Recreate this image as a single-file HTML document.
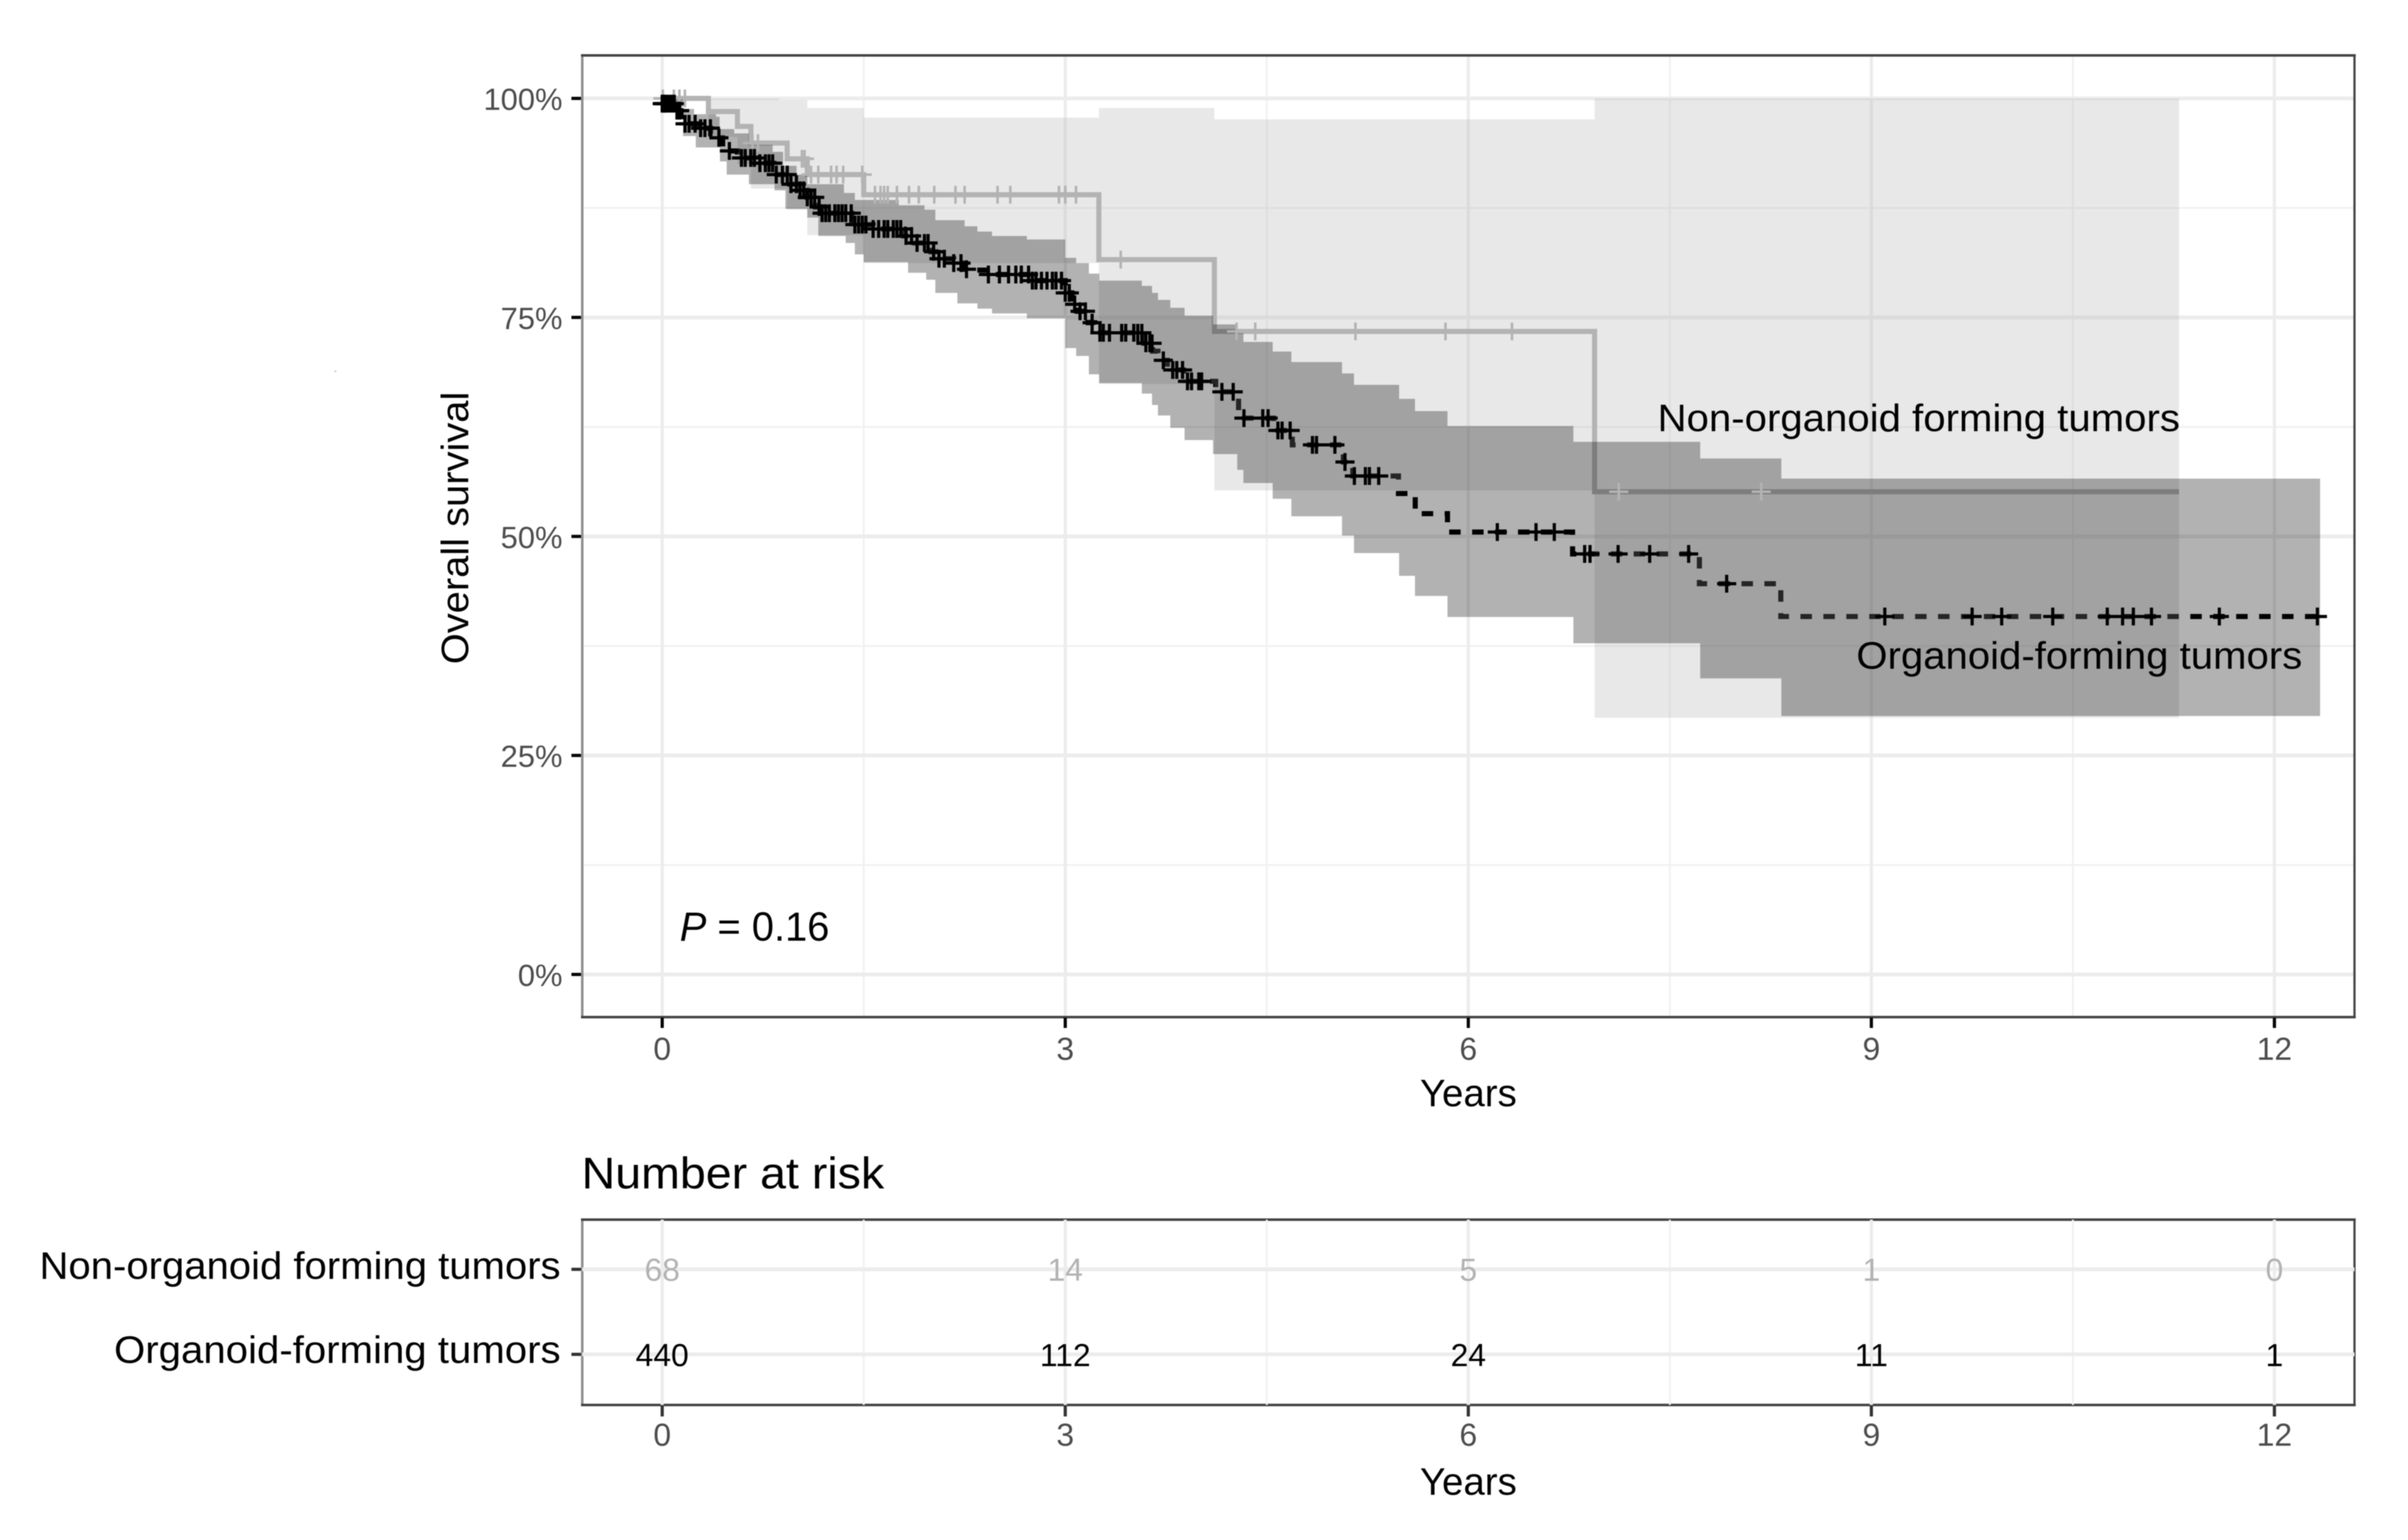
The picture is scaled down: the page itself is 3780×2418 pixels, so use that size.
<!DOCTYPE html>
<html lang="en">
<head>
<meta charset="utf-8">
<title>Overall survival by organoid formation</title>
<style>
html,body{margin:0;padding:0;background:#fff;width:3780px;height:2418px;overflow:hidden}
svg{display:block;filter:blur(0.9px)}
text{font-family:"Liberation Sans",Arial,sans-serif}
</style>
</head>
<body>
<svg id="chart" xmlns="http://www.w3.org/2000/svg" width="3780" height="2418" viewBox="0 0 3780 2418">
  <rect x="0" y="0" width="3780" height="2418" fill="#ffffff"/>
  <rect x="525" y="582" width="3" height="2" fill="#bbbbbb"/>
  <g id="grid"></g>
  <g id="lines"></g>
  <g id="bands"></g>
  <g id="marks"></g>
  <g id="axes"></g>
  <g id="risk"></g>

  <text transform="translate(735,1043) rotate(-90)" font-size="60" fill="#000" textLength="428" lengthAdjust="spacingAndGlyphs">Overall survival</text>
  <text x="2229" y="1737" font-size="60" fill="#000" textLength="152" lengthAdjust="spacingAndGlyphs">Years</text>
  <text x="1067" y="1477" font-size="64" fill="#000" textLength="235" lengthAdjust="spacingAndGlyphs"><tspan font-style="italic">P</tspan> = 0.16</text>
  <text x="2602" y="677" font-size="60" fill="#000" textLength="820" lengthAdjust="spacingAndGlyphs">Non-organoid forming tumors</text>
  <text x="2914" y="1050" font-size="60" fill="#000" textLength="700" lengthAdjust="spacingAndGlyphs">Organoid-forming tumors</text>
  <text x="913" y="1866" font-size="70" fill="#000" textLength="475" lengthAdjust="spacingAndGlyphs">Number at risk</text>
  <text x="62" y="2008" font-size="60" fill="#000" textLength="818" lengthAdjust="spacingAndGlyphs">Non-organoid forming tumors</text>
  <text x="179" y="2140" font-size="60" fill="#000" textLength="701" lengthAdjust="spacingAndGlyphs">Organoid-forming tumors</text>
  <text x="2229" y="2347" font-size="60" fill="#000" textLength="152" lengthAdjust="spacingAndGlyphs">Years</text>
</svg>
<script>
// ---- tick values ----
const xTickValues = [0, 3, 6, 9, 12];
const xMinorValues = [1.5, 4.5, 7.5, 10.5];
const yTickValues = [0, 25, 50, 75, 100];
const yTickLabels = ["0%", "25%", "50%", "75%", "100%"];
const yMinorValues = [12.5, 37.5, 62.5, 87.5];

// ---- non-organoid series ----
const nonOrgTimes = [0, 0.344, 0.56, 0.66, 0.93, 1.08, 1.5, 3.25, 4.11, 6.94];
const nonOrgSurvival = [100, 98.5, 96.8, 94.9, 93.1, 91.3, 89.0, 81.6, 73.4, 55.1];
const nonOrgLower = [100, 95.6, 92.5, 89.7, 87.3, 84.4, 81.2, 67.4, 55.25, 29.3];
const nonOrgUpperTimes = [0, 0.87, 1.08, 1.5, 3.25, 4.11, 6.94];
const nonOrgUpper = [100, 99.8, 98.9, 97.8, 98.9, 97.6, 100];
const nonOrgEnd = 11.29;
const nonOrgCensor = [0.005, 0.087, 0.128, 0.169, 0.672, 0.713, 1.04, 1.06, 1.108, 1.162, 1.257, 1.298, 1.347, 1.489,
  1.584, 1.625, 1.652, 1.679, 1.747, 1.837, 1.91, 2.025, 2.183, 2.251, 2.496, 2.591, 2.953, 3.0, 3.08,
  3.413, 4.275, 4.414, 5.16, 5.83, 6.325, 7.12, 8.18];

// ---- organoid series ----
const orgTimes = [0, 0.10, 0.14, 0.28, 0.36, 0.42, 0.45, 0.56, 0.70, 0.83, 0.95, 1.02, 1.08, 1.14, 1.19, 1.41, 1.57, 1.8, 1.88, 2.0, 2.06, 2.17, 2.25, 2.33, 2.42, 2.74, 3.0, 3.05, 3.09, 3.17, 3.22, 3.585, 3.65, 3.69, 3.76, 3.88, 4.12, 4.29, 4.55, 4.69, 5.07, 5.14, 5.48, 5.605, 5.845, 6.776, 7.72, 8.326];
const orgSurvival = [99.4, 98.6, 97.1, 96.6, 96.0, 95.5, 94.0, 93.2, 92.6, 91.3, 90.2, 89.5, 88.7, 87.6, 86.9, 85.6, 85.1, 84.3, 83.5, 82.5, 81.7, 81.2, 80.5, 80.4, 79.9, 79.2, 77.8, 76.5, 75.7, 74.4, 73.25, 72.05, 71.15, 70.1, 69.0, 67.7, 66.5, 63.5, 62.1, 60.45, 58.5, 56.9, 54.9, 52.6, 50.5, 48.0, 44.6, 40.86];
const orgEnd = 12.34;
const orgUpperTimes = [0, 0.155, 0.237, 0.40, 0.427, 0.536, 0.645, 0.822, 0.9, 1.0, 1.08, 1.353, 1.434, 1.761, 1.952, 2.033, 2.251, 2.346, 2.455, 2.714, 3.0, 3.081, 3.176, 3.253, 3.57, 3.646, 3.69, 3.782, 3.888, 4.1, 4.28, 4.326, 4.544, 4.683, 5.06, 5.149, 5.485, 5.603, 5.845, 6.782, 7.726, 8.33];
const orgUpper = [100, 98.8, 98.2, 97.9, 96.5, 96.0, 94.7, 93.9, 92.3, 91.3, 90.2, 89.2, 88.4, 87.8, 87.3, 86.1, 85.4, 84.8, 84.3, 83.9, 81.8, 81.2, 80.0, 79.2, 78.6, 77.8, 77.0, 76.1, 75.2, 74.2, 73.2, 72.2, 71.1, 69.9, 68.6, 67.3, 65.7, 64.3, 62.6, 60.8, 58.9, 56.6];
const orgLowerTimes = [0, 0.155, 0.25, 0.43, 0.48, 0.645, 0.836, 0.917, 1.08, 1.162, 1.366, 1.434, 1.5, 1.83, 1.965, 2.033, 2.197, 2.346, 2.455, 2.714, 3.0, 3.081, 3.176, 3.253, 3.57, 3.646, 3.69, 3.782, 3.888, 4.1, 4.28, 4.326, 4.544, 4.683, 5.06, 5.149, 5.485, 5.603, 5.845, 6.782, 7.726, 8.33];
const orgLower = [99, 95.7, 94.4, 92.8, 91.3, 90.2, 89.5, 87.4, 86.4, 84.3, 83.5, 82.2, 81.3, 80.1, 79.3, 77.8, 76.6, 76.0, 75.45, 74.9, 71.5, 70.6, 68.5, 67.5, 66.3, 65.0, 63.8, 62.4, 61.0, 59.4, 57.6, 56.1, 54.3, 52.3, 50.1, 48.1, 45.5, 43.2, 40.8, 37.8, 33.8, 29.5];
const orgCensor = [0.0, 0.01, 0.02, 0.03, 0.05, 0.07, 0.09, 0.11, 0.13, 0.17, 0.20, 0.245, 0.286, 0.318, 0.359, 0.422, 0.50, 0.59, 0.618, 0.659, 0.686, 0.727, 0.768, 0.795, 0.822, 0.849, 0.895, 0.931, 0.958, 0.999, 1.026, 1.053, 1.08, 1.108, 1.135, 1.168, 1.19, 1.217, 1.244, 1.285, 1.312, 1.339, 1.366, 1.407, 1.434, 1.462, 1.489, 1.516, 1.57, 1.611, 1.652, 1.679, 1.72, 1.747, 1.775, 1.815, 1.856, 1.897, 1.952, 1.979, 2.02, 2.06, 2.1, 2.17, 2.224, 2.265, 2.428, 2.51, 2.578, 2.632, 2.673, 2.727, 2.755, 2.782, 2.823, 2.864, 2.904, 2.931, 2.972,
  3.0, 3.03, 3.07, 3.11, 3.15, 3.2, 3.258, 3.283, 3.329, 3.42, 3.45, 3.51, 3.54, 3.57, 3.6, 3.63, 3.646, 3.73, 3.80, 3.83, 3.873, 3.91, 3.94, 3.994, 4.015, 4.166, 4.25, 4.33, 4.47, 4.51, 4.583, 4.614, 4.674, 4.84, 4.87, 5.007, 5.082, 5.152, 5.234, 5.264, 5.333,
  6.216, 6.504, 6.64, 6.866, 6.906, 7.115, 7.35, 7.64, 7.923, 9.1, 9.75, 9.97, 10.35, 10.756, 10.87, 10.95, 11.085, 11.59, 12.32];

// ---- risk table ----
const riskTimes = [0, 3, 6, 9, 12];
const riskNonOrg = [68, 14, 5, 1, 0];
const riskOrg = [440, 112, 24, 11, 1];

// ---- axis functions ----
const SVG_NS = "http://www.w3.org/2000/svg";
const panelLeft = 914, panelRight = 3696, panelTop = 87, panelBottom = 1597;
const riskTop = 1915, riskBottom = 2206, riskRowNon = 1993, riskRowOrg = 2126.5;
function xScale(t) { return 1039.5 + t * 210.9; }
function yScale(p) { return 1530 - p * 13.755; }

function make(tag, parent) {
  const el = document.createElementNS(SVG_NS, tag);
  parent.appendChild(el);
  return el;
}
function stepPath(times, values, end) {
  let d = "M" + xScale(times[0]) + " " + yScale(values[0]);
  for (let i = 1; i < times.length; i++) {
    d += "H" + xScale(times[i]) + "V" + yScale(values[i]);
  }
  d += "H" + xScale(end);
  return d;
}
function ribbonPath(upT, upV, loT, loV, end) {
  let d = stepPath(upT, upV, end) + "V" + yScale(loV[loV.length - 1]);
  for (let i = loT.length - 1; i >= 0; i--) {
    d += "H" + xScale(loT[i]);
    if (i > 0) d += "V" + yScale(loV[i - 1]);
  }
  return d + "Z";
}
function valueAt(times, values, t) {
  let v = values[0];
  for (let i = 0; i < times.length; i++) {
    if (times[i] <= t) v = values[i];
  }
  return v;
}
function hLine(parent, x1, x2, y, color, width) {
  const l = make("line", parent);
  l.setAttribute("x1", x1); l.setAttribute("x2", x2);
  l.setAttribute("y1", y); l.setAttribute("y2", y);
  l.setAttribute("stroke", color); l.setAttribute("stroke-width", width);
  return l;
}
function vLine(parent, x, y1, y2, color, width) {
  const l = make("line", parent);
  l.setAttribute("x1", x); l.setAttribute("x2", x);
  l.setAttribute("y1", y1); l.setAttribute("y2", y2);
  l.setAttribute("stroke", color); l.setAttribute("stroke-width", width);
  return l;
}

const gridG = document.getElementById("grid");
const linesG = document.getElementById("lines");
const bandsG = document.getElementById("bands");
const marksG = document.getElementById("marks");
const axesG = document.getElementById("axes");
const riskG = document.getElementById("risk");

// ---- gridlines ----
yMinorValues.forEach(function (v) {
  const l = hLine(gridG, panelLeft, panelRight, yScale(v), "#f1f1f1", 3);
  
  
});
xMinorValues.forEach(function (v) {
  const l = vLine(gridG, xScale(v), panelTop, panelBottom, "#f1f1f1", 3);
  
  
});
yTickValues.forEach(function (v) {
  const l = hLine(gridG, panelLeft, panelRight, yScale(v), "#ececec", 6);
  
  
});
xTickValues.forEach(function (v) {
  const l = vLine(gridG, xScale(v), panelTop, panelBottom, "#ececec", 5);
  
  
});

// ---- survival lines (under the ribbons) ----
const nonLine = make("path", linesG);


nonLine.setAttribute("d", stepPath(nonOrgTimes, nonOrgSurvival, nonOrgEnd));
nonLine.setAttribute("fill", "none");
nonLine.setAttribute("stroke", "#b3b3b3");
nonLine.setAttribute("stroke-width", "8");

const orgLine = make("path", linesG);


orgLine.setAttribute("d", stepPath(orgTimes, orgSurvival, orgEnd));
orgLine.setAttribute("fill", "none");
orgLine.setAttribute("stroke", "#000000");
orgLine.setAttribute("stroke-width", "8");
orgLine.setAttribute("stroke-dasharray", "18 18");

// ---- confidence bands ----
const nonBand = make("path", bandsG);


nonBand.setAttribute("d", ribbonPath(nonOrgUpperTimes, nonOrgUpper, nonOrgTimes, nonOrgLower, nonOrgEnd));
nonBand.setAttribute("fill", "#b3b3b3");
nonBand.setAttribute("fill-opacity", "0.3");

const orgBand = make("path", bandsG);


orgBand.setAttribute("d", ribbonPath(orgUpperTimes, orgUpper, orgLowerTimes, orgLower, orgEnd));
orgBand.setAttribute("fill", "#000000");
orgBand.setAttribute("fill-opacity", "0.3");

// ---- censor marks ----
function drawCensor(t, p, color, weight) {
  const m = make("path", marksG);
  const x = xScale(t), y = yScale(p);
  m.setAttribute("d", "M" + (x - 15) + " " + y + "H" + (x + 15) + "M" + x + " " + (y - 14) + "V" + (y + 14));
  m.setAttribute("stroke", color);
  m.setAttribute("stroke-width", weight);
  m.setAttribute("fill", "none");
  return m;
}
nonOrgCensor.forEach(function (t) {
  const m = drawCensor(t, valueAt(nonOrgTimes, nonOrgSurvival, t), "#b3b3b3", 4);
  
  
});
orgCensor.forEach(function (t) {
  const m = drawCensor(t, valueAt(orgTimes, orgSurvival, t), "#000000", 5);
  
  
});

// ---- panel borders, ticks, tick labels ----
function drawBorders(top, bottom, nameBase) {
  const left = vLine(axesG, panelLeft, top - 2, bottom + 2, "#8f8f8f", 4);
  
  
  const t = hLine(axesG, panelLeft - 2, panelRight + 2, top, "#444444", 4);
  
  
  const b = hLine(axesG, panelLeft - 2, panelRight + 2, bottom, "#444444", 4);
  
  
  const r = vLine(axesG, panelRight, top - 2, bottom + 2, "#444444", 3.5);
  
  
}
drawBorders(panelTop, panelBottom, 'survival-panel');

yTickValues.forEach(function (v, i) {
  const tick = hLine(axesG, 897, panelLeft - 2, yScale(v), "#000000", 5);
  
  
  const label = make("text", axesG);
  
  
  label.setAttribute("x", 883);
  label.setAttribute("y", yScale(v) + 18);
  label.setAttribute("text-anchor", "end");
  label.setAttribute("font-size", "48.5");
  label.setAttribute("fill", "#4d4d4d");
  label.textContent = yTickLabels[i];
});
xTickValues.forEach(function (v) {
  const tick = vLine(axesG, xScale(v), panelBottom + 1, 1614, "#000000", 5);
  
  
  const label = make("text", axesG);
  
  
  label.setAttribute("x", xScale(v));
  label.setAttribute("y", 1664);
  label.setAttribute("text-anchor", "middle");
  label.setAttribute("font-size", "50");
  label.setAttribute("fill", "#4d4d4d");
  label.textContent = String(v);
});

// ---- risk table ----
xMinorValues.forEach(function (v) {
  const l = vLine(riskG, xScale(v), riskTop, riskBottom, "#f1f1f1", 3);
  
  
});
[riskRowNon, riskRowOrg].forEach(function (y) {
  const l = hLine(riskG, panelLeft, panelRight, y, "#ececec", 6);
  
  
  const tick = hLine(riskG, 897, panelLeft - 2, y, "#333333", 5);
  
  
});
xTickValues.forEach(function (v) {
  const l = vLine(riskG, xScale(v), riskTop, riskBottom, "#ececec", 5);
  
  
  const tick = vLine(riskG, xScale(v), riskBottom + 1, 2224, "#333333", 5);
  
  
  const label = make("text", riskG);
  
  
  label.setAttribute("x", xScale(v));
  label.setAttribute("y", 2270);
  label.setAttribute("text-anchor", "middle");
  label.setAttribute("font-size", "50");
  label.setAttribute("fill", "#4d4d4d");
  label.textContent = String(v);
});
riskTimes.forEach(function (t, i) {
  const a = make("text", riskG);
  
  
  a.setAttribute("x", xScale(t));
  a.setAttribute("y", 2011);
  a.setAttribute("text-anchor", "middle");
  a.setAttribute("font-size", "50");
  a.setAttribute("fill", "#b3b3b3");
  a.textContent = String(riskNonOrg[i]);
  const b = make("text", riskG);
  
  
  b.setAttribute("x", xScale(t));
  b.setAttribute("y", 2145);
  b.setAttribute("text-anchor", "middle");
  b.setAttribute("font-size", "50");
  b.setAttribute("fill", "#000000");
  b.textContent = String(riskOrg[i]);
});
drawBorders(riskTop, riskBottom, 'risk-panel');
</script>
</body>
</html>
